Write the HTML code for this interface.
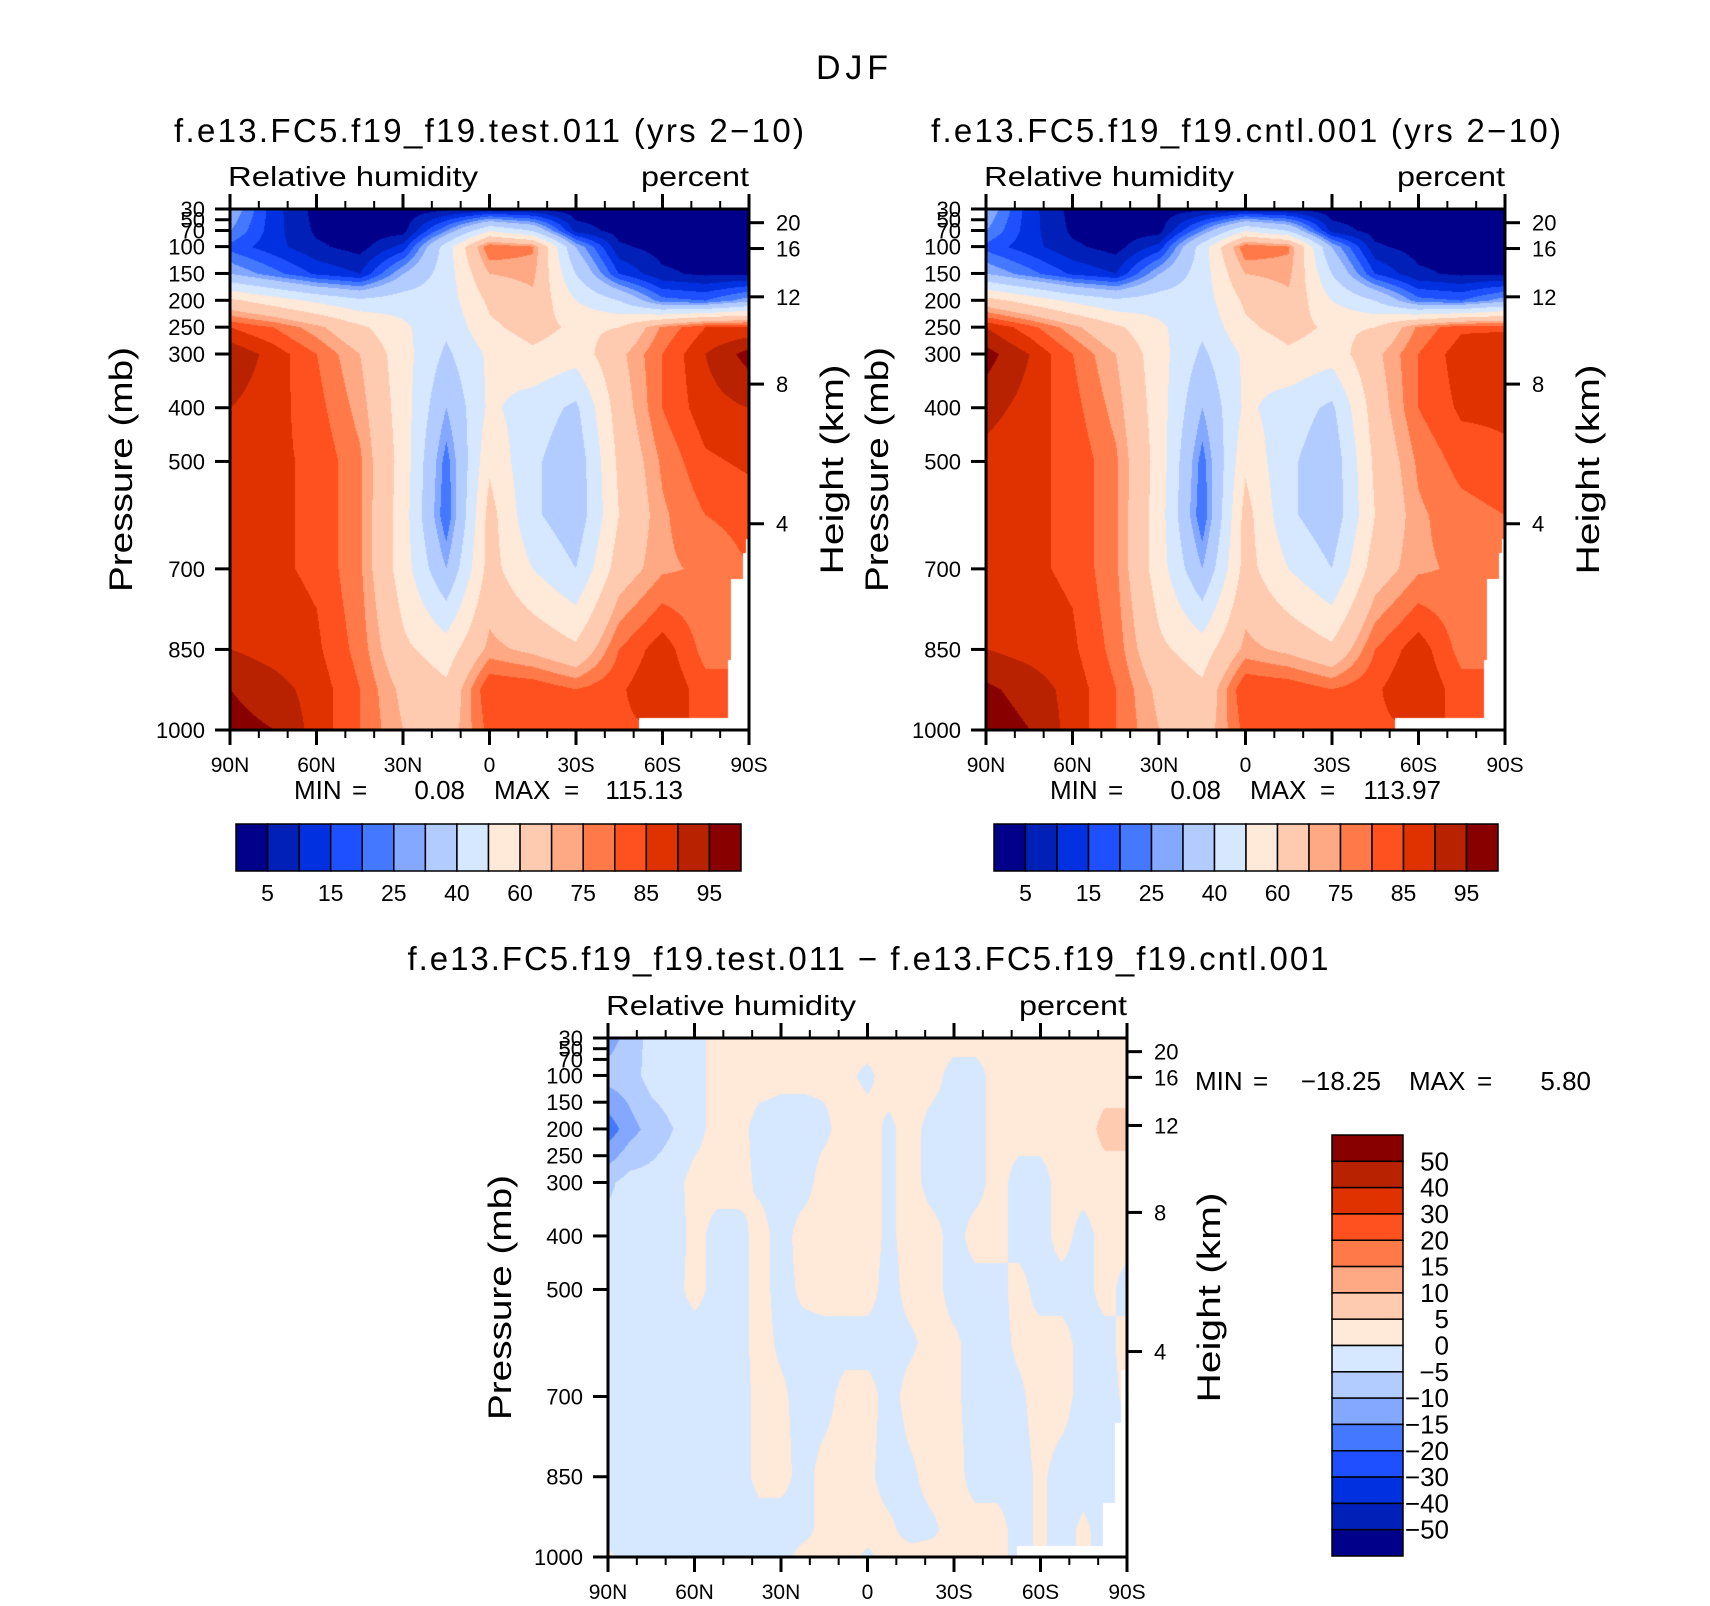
<!DOCTYPE html>
<html><head><meta charset="utf-8">
<style>
html,body{margin:0;padding:0;background:#fff;}
#page{position:relative;width:1710px;height:1606px;overflow:hidden;background:#fff;font-family:"Liberation Sans",sans-serif;}
canvas{position:absolute;}
svg{position:absolute;left:0;top:0;}
text{font-family:"Liberation Sans",sans-serif;fill:#000;}
</style></head>
<body>
<div id="page">
<canvas id="c1" style="left:230px;top:209px" width="519" height="521"></canvas>
<canvas id="c2" style="left:986px;top:209px" width="519" height="521"></canvas>
<canvas id="c3" style="left:608px;top:1038px" width="519" height="519"></canvas>
<svg id="ov" width="1710" height="1606">
<text x="852" y="79" font-size="34" text-anchor="middle" textLength="72">DJF</text>
<text x="489" y="142" font-size="33" text-anchor="middle" textLength="630">f.e13.FC5.f19_f19.test.011 (yrs 2−10)</text>
<text x="1246" y="142" font-size="33" text-anchor="middle" textLength="630">f.e13.FC5.f19_f19.cntl.001 (yrs 2−10)</text>
<text x="868" y="970" font-size="33" text-anchor="middle" textLength="921">f.e13.FC5.f19_f19.test.011 − f.e13.FC5.f19_f19.cntl.001</text>
</svg>
</div>
<script>
// ---------- data ----------
const rhLevels = [5,10,15,20,25,30,40,50,60,70,75,80,85,90,95];
const diffLevels = [-50,-40,-30,-20,-15,-10,-5,0,5,10,15,20,30,40,50];
const rhLabels = ['5','15','25','40','60','75','85','95'];
const diffLabels = ['50','40','30','20','15','10','5','0','−5','−10','−15','−20','−30','−40','−50'];
const palette = ['#00008a','#0020b8','#0030e0','#1e50ff','#4479ff','#84a8ff','#b3ccff','#d6e8ff','#ffe9d8','#ffcbb0','#ffa884','#ff7a48','#ff5020','#e03200','#b82200','#880000'];
const gridLats = [90,75,60,45,30,15,0,-15,-30,-45,-60,-75,-90];
const gridP = [30,70,100,150,200,250,300,400,500,600,700,850,925,1000];
const testRH = [
 [30,12,3,2,2,4,6,5,2,2,2,2,2],
 [25,12,4,2,3,25,50,40,8,3,2,2,2],
 [18,12,6,3,12,45,80,76,30,6,3,3,3],
 [30,22,14,10,30,45,70,72,40,15,6,4,4],
 [62,55,48,42,45,45,62,68,50,40,22,20,28],
 [85,80,72,62,52,42,58,64,58,60,76,85,86],
 [94,88,80,70,54,38,52,58,54,68,80,90,97],
 [90,87,82,73,55,30,52,45,38,65,80,88,90],
 [87,86,84,76,56,22,58,42,33,62,76,84,86],
 [86,86,84,76,55,20,64,42,33,60,74,80,82],
 [86,86,84,76,55,30,64,50,40,65,74,76,null],
 [90,88,86,78,62,55,72,68,62,80,88,78,null],
 [95,92,88,80,68,62,85,84,80,84,90,82,null],
 [97,95,88,80,70,65,82,80,80,84,null,null,null]
];
const cntlRH = [
 [30,12,3,2,2,4,6,5,2,2,2,2,2],
 [25,12,4,2,3,25,50,40,8,3,2,2,2],
 [18,12,6,3,12,45,80,76,30,6,3,3,3],
 [30,22,14,10,30,45,70,72,40,15,6,4,4],
 [64,56,48,42,45,45,62,68,50,40,22,20,28],
 [90,82,72,62,52,42,58,64,58,60,76,84,84],
 [97,90,80,70,54,38,52,58,54,68,80,88,90],
 [92,88,82,73,55,30,52,45,38,65,80,86,86],
 [88,86,84,76,56,22,58,42,33,62,76,82,84],
 [86,86,84,76,55,20,64,42,33,60,74,78,80],
 [86,86,84,76,55,30,64,50,40,65,74,76,null],
 [90,88,86,78,62,55,72,68,62,80,88,78,null],
 [96,93,88,80,68,62,85,84,80,84,90,82,null],
 [98,95,88,80,70,65,82,80,80,84,null,null,null]
];
const diffLats = [90,82.5,75,67.5,60,52.5,45,37.5,30,22.5,15,7.5,0,-7.5,-15,-22.5,-30,-37.5,-45,-52.5,-60,-67.5,-75,-82.5,-90];
const diffP = [30,100,200,300,400,500,600,700,850,950,1000];
const diffRH = [
 [-12,-8,-3,-3,-2,2,2,2,2,2,2,2,2,2,2,2,2,2,2,2,2,2,2,2,2],
 [-8,-7,-3,-2,-2,2,2,2,1,1,1,1,-1,2,2,2,-2,-2,2,2,2,2,2,2,2],
 [-18,-12,-8,-5,-2,2,2,-2,-2,-2,-1,2,2,-1,2,-2,-2,-2,2,2,2,2,2,7,7],
 [-6,-3,-3,-2,2,2,2,-1,-2,-2,2,2,2,-1,2,-2,-2,-2,2,-2,-2,2,2,2,2],
 [-3,-3,-3,-3,2,-2,-2,2,-2,2,2,2,2,-1,2,2,-2,2,2,-2,-2,2,-2,2,2],
 [-3,-3,-3,-2,2,-2,-2,2,-2,1,2,2,2,-2,2,2,-2,-2,-2,2,-2,-2,-2,2,-2],
 [-3,-3,-3,-3,-3,-2,-2,2,-1,-2,-2,-2,-2,-2,-1,2,1,-2,-2,1,2,2,-2,-2,2],
 [-3,-3,-3,-3,-3,-3,-3,2,1,-2,-2,2,2,-2,2,2,1,-2,-2,-1,2,2,-2,-2,1],
 [-3,-3,-3,-3,-3,-3,-3,2,2,-2,2,2,1,-2,-1,2,2,-2,-2,-2,1,-2,-2,-2,-2],
 [-3,-3,-3,-3,-3,-3,-3,-3,-3,-2,2,2,2,1,-2,-1,2,2,2,-2,1,-2,1,-2,-2],
 [1,-2,-2,-2,-2,-2,-2,-2,-2,2,2,2,-1,2,2,2,2,2,2,-2,1,-2,1,-2,-2]
];
const groundLatRH = [-52,-83,-84,-88,-89.3];
const groundPRH = [978,870,720,670,645];
const groundLatDiff = [-52,-82,-86,-88];
const groundPDiff = [980,900,750,650];
const pTicks = [30,50,70,100,150,200,250,300,400,500,700,850,1000];
const kmTicks = ['20','16','12','8','4'];
const kmTickP = [55.5,103.6,193.5,356,616];
const latTicks = [90,60,30,0,-30,-60,-90];
const latTickLabels = ['90N','60N','30N','0','30S','60S','90S'];

// ---------- helpers ----------
const NS = 'http://www.w3.org/2000/svg';
const ov = document.getElementById('ov');
function mk(tag, attrs, name) {
  const el = document.createElementNS(NS, tag);
  for (const k in attrs) el.setAttribute(k, attrs[k]);
  
  
  ov.appendChild(el);
  return el;
}
function txt(x, y, s, size, anchor, name, len) {
  const a = {x:x, y:y, 'font-size':size, 'text-anchor':anchor};
  if (len) { a.textLength = len; a.lengthAdjust = 'spacingAndGlyphs'; }
  const t = mk('text', a, name);
  t.textContent = s;
  return t;
}
function bracket(arr, v, desc) {
  for (let i = 0; i < arr.length - 1; i++) {
    const a = arr[i], b = arr[i+1];
    if ((desc && v <= a && v >= b) || (!desc && v >= a && v <= b)) return [i, (v - a) / (b - a)];
  }
  return [arr.length - 2, 1];
}
function sample(lats, ps, grid, lat, p) {
  const [i, fx] = bracket(lats, lat, true);
  const [j, fy] = bracket(ps, p, false);
  const cs = [[grid[j][i], (1-fx)*(1-fy)], [grid[j][i+1], fx*(1-fy)], [grid[j+1][i], (1-fx)*fy], [grid[j+1][i+1], fx*fy]];
  let s = 0, w = 0;
  for (const [v, wt] of cs) if (v !== null) { s += v * wt; w += wt; }
  if (w === 0) { for (const [v] of cs) if (v !== null) { s += v; w += 1; } }
  return w ? s / w : null;
}
function hex(c) { return [parseInt(c.substr(1,2),16), parseInt(c.substr(3,2),16), parseInt(c.substr(5,2),16)]; }
const pal = palette.map(hex);
function levelIndex(levels, v) { let k = 0; while (k < levels.length && v >= levels[k]) k++; return k; }
function masked(gLat, gP, lat, p) {
  let k = -1;
  for (let i = 0; i < gLat.length; i++) if (lat <= gLat[i]) k = i;
  return k >= 0 && p > gP[k];
}
function drawField(id, lats, ps, grid, levels, gLat, gP) {
  const cv = document.getElementById(id);
  const W = cv.width, H = cv.height;
  const ctx = cv.getContext('2d');
  const img = ctx.createImageData(W, H);
  const xLat = px => 90 - 180 * px / (W - 1);
  const yP = py => 30 + 970 * py / (H - 1);
  for (let py = 0; py < H; py++) {
    const p = yP(py);
    for (let px = 0; px < W; px++) {
      const lat = xLat(px);
      let col = [255,255,255];
      if (!masked(gLat, gP, lat, p)) {
        const v = sample(lats, ps, grid, lat, p);
        if (v !== null) col = pal[levelIndex(levels, v)];
      }
      const o = (py * W + px) * 4;
      img.data[o] = col[0]; img.data[o+1] = col[1]; img.data[o+2] = col[2]; img.data[o+3] = 255;
    }
  }
  ctx.putImageData(img, 0, 0);
}

function axes(L, T, W, H, tag, pTitleX, hTitleX) {
  const xOf = lat => L + (90 - lat) / 180 * W;
  const yOf = p => T + (p - 30) / 970 * H;
  mk('rect', {x:L, y:T, width:W, height:H, fill:'none', stroke:'#000', 'stroke-width':3}, tag + '-plot-frame');
  for (let lat = 90; lat >= -90; lat -= 10) {
    const major = lat % 30 === 0;
    const len = major ? 15 : 8;
    mk('line', {x1:xOf(lat), x2:xOf(lat), y1:T, y2:T - len, stroke:'#000', 'stroke-width':major ? 3 : 2}, tag + '-top-tick');
    mk('line', {x1:xOf(lat), x2:xOf(lat), y1:T + H, y2:T + H + len, stroke:'#000', 'stroke-width':major ? 3 : 2}, tag + '-bottom-tick');
  }
  latTicks.forEach((lat, i) => {
    txt(xOf(lat), T + H + 42, latTickLabels[i], 21, 'middle', tag + '-x-tick-label');
  });
  pTicks.forEach(p => {
    mk('line', {x1:L - 15, x2:L, y1:yOf(p), y2:yOf(p), stroke:'#000', 'stroke-width':3}, tag + '-y-tick');
    txt(L - 25, yOf(p) + 8, String(p), 22, 'end', tag + '-y-tick-label');
  });
  kmTickP.forEach((p, i) => {
    mk('line', {x1:L + W, x2:L + W + 15, y1:yOf(p), y2:yOf(p), stroke:'#000', 'stroke-width':3}, tag + '-height-tick');
    txt(L + W + 27, yOf(p) + 8, kmTicks[i], 22, 'start', tag + '-height-tick-label');
  });
  txt(L - 2, T - 23, 'Relative humidity', 28, 'start', tag + '-variable-label', 250);
  txt(L + W, T - 23, 'percent', 28, 'end', tag + '-units-label', 108);
  const cy = T + H / 2;
  const t1 = txt(pTitleX, cy, 'Pressure (mb)', 32, 'middle', tag + '-y-axis-title', 245);
  t1.setAttribute('transform', 'rotate(-90 ' + pTitleX + ' ' + cy + ')');
  t1.setAttribute('dy', '11');
  const t2 = txt(hTitleX, cy, 'Height (km)', 32, 'middle', tag + '-height-axis-title', 210);
  t2.setAttribute('transform', 'rotate(-90 ' + hTitleX + ' ' + cy + ')');
  t2.setAttribute('dy', '11');
}

function hColorbar(L, T, W, H, tag) {
  const bw = W / palette.length;
  palette.forEach((c, i) => {
    mk('rect', {x:L + i * bw, y:T, width:bw, height:H, fill:c, stroke:'#000', 'stroke-width':1.5}, tag + '-colorbar-box');
  });
  rhLabels.forEach((s, i) => {
    txt(L + (2 * i + 1) * bw, T + H + 30, s, 23, 'middle', tag + '-colorbar-label');
  });
}
function vColorbar(L, T, W, H, tag) {
  const bh = H / palette.length;
  for (let i = 0; i < palette.length; i++) {
    mk('rect', {x:L, y:T + i * bh, width:W, height:bh, fill:palette[palette.length - 1 - i], stroke:'#000', 'stroke-width':1.5}, tag + '-colorbar-box');
  }
  diffLabels.forEach((s, i) => {
    txt(L + W + 46, T + (i + 1) * bh + 9, s, 26, 'end', tag + '-colorbar-label');
  });
}
function minMax(x, y, parts, tag) {
  // parts: [text, x-offset]
  parts.forEach(pp => {
    txt(x + pp[1], y, pp[0], 26, pp[2] || 'start', tag + '-min-max');
  });
}

drawField('c1', gridLats, gridP, testRH, rhLevels, groundLatRH, groundPRH);
drawField('c2', gridLats, gridP, cntlRH, rhLevels, groundLatRH, groundPRH);
drawField('c3', diffLats, diffP, diffRH, diffLevels, groundLatDiff, groundPDiff);

axes(230, 209, 519, 521, 'test', 121, 832);
axes(986, 209, 519, 521, 'control', 877, 1588);
axes(608, 1038, 519, 519, 'difference', 500, 1209);

minMax(294, 799, [['MIN', 0], ['=', 58], ['0.08', 171, 'end'], ['MAX', 200], ['=', 270], ['115.13', 389, 'end']], 'test');
minMax(1050, 799, [['MIN', 0], ['=', 58], ['0.08', 171, 'end'], ['MAX', 200], ['=', 270], ['113.97', 391, 'end']], 'control');
minMax(1195, 1090, [['MIN', 0], ['=', 58], ['−18.25', 186, 'end'], ['MAX', 214], ['=', 282], ['5.80', 396, 'end']], 'difference');

hColorbar(236, 824, 505, 47, 'test');
hColorbar(994, 824, 504, 47, 'control');
vColorbar(1332, 1135, 71, 421, 'difference');
</script>
</body></html>
